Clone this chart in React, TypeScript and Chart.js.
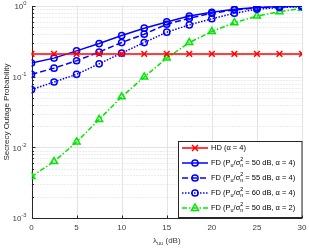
import React, { useEffect, useRef } from "react";
import { Chart, registerables } from "chart.js";
Chart.register(...registerables);

const xValues = [0, 2.5, 5, 7.5, 10, 12.5, 15, 17.5, 20, 22.5, 25, 27.5, 30];
const hdAlpha4 = [0.21, 0.21, 0.21, 0.21, 0.21, 0.21, 0.21, 0.21, 0.21, 0.21, 0.21, 0.21, 0.21];
const fd50Alpha4 = [0.156, 0.183, 0.232, 0.294, 0.382, 0.485, 0.595, 0.72, 0.815, 0.9, 0.955, 0.98, 0.995];
const fd55Alpha4 = [0.108, 0.132, 0.168, 0.223, 0.304, 0.399, 0.552, 0.67, 0.79, 0.88, 0.94, 0.97, 0.99];
const fd60Alpha4 = [0.0656, 0.084, 0.108, 0.152, 0.216, 0.304, 0.426, 0.54, 0.66, 0.79, 0.9, 0.95, 0.98];
const fd50Alpha2 = [0.00386, 0.00628, 0.0119, 0.0248, 0.0518, 0.099, 0.183, 0.304, 0.435, 0.58, 0.72, 0.83, 0.93];
const xTicks = [0, 5, 10, 15, 20, 25, 30];
const yTickExps = [-3, -2, -1, 0];

const FONT = '"Liberation Sans", Arial, sans-serif';
const RED = "#ff0000";
const BLUE = "#0000ff";
const GREEN = "#00e600";

type Seg = { k: "n" | "sub" | "sup" | "supsub"; t: string; b?: string };

function drawRich(ctx: CanvasRenderingContext2D, x: number, y: number, segs: Seg[], size: number) {
  let cx = x;
  ctx.textBaseline = "middle";
  ctx.textAlign = "left";
  const small = size * 0.72;
  for (const s of segs) {
    if (s.k === "n") {
      ctx.font = `${size}px ${FONT}`;
      ctx.fillText(s.t, cx, y);
      cx += ctx.measureText(s.t).width;
    } else if (s.k === "sub") {
      ctx.font = `${small}px ${FONT}`;
      ctx.fillText(s.t, cx, y + size * 0.35);
      cx += ctx.measureText(s.t).width;
    } else if (s.k === "sup") {
      ctx.font = `${small}px ${FONT}`;
      ctx.fillText(s.t, cx, y - size * 0.4);
      cx += ctx.measureText(s.t).width;
    } else {
      ctx.font = `${small}px ${FONT}`;
      ctx.fillText(s.t, cx, y - size * 0.45);
      ctx.fillText(s.b || "", cx, y + size * 0.4);
      cx += Math.max(ctx.measureText(s.t).width, ctx.measureText(s.b || "").width);
    }
  }
  return cx - x;
}

function richWidth(ctx: CanvasRenderingContext2D, segs: Seg[], size: number) {
  let w = 0;
  const small = size * 0.72;
  for (const s of segs) {
    if (s.k === "n") {
      ctx.font = `${size}px ${FONT}`;
      w += ctx.measureText(s.t).width;
    } else if (s.k === "supsub") {
      ctx.font = `${small}px ${FONT}`;
      w += Math.max(ctx.measureText(s.t).width, ctx.measureText(s.b || "").width);
    } else {
      ctx.font = `${small}px ${FONT}`;
      w += ctx.measureText(s.t).width;
    }
  }
  return w;
}

const fdLabel = (p: string, a: string): Seg[] => [
  { k: "n", t: "FD (P" },
  { k: "sub", t: "u" },
  { k: "n", t: "/\u03c3" },
  { k: "supsub", t: "2", b: "n" },
  { k: "n", t: ` = ${p} dB, \u03b1 = ${a})` },
];

const legendItems = [
  { segs: [{ k: "n", t: "HD (\u03b1 = 4)" }] as Seg[], color: RED, dash: [] as number[], marker: "x" },
  { segs: fdLabel("50", "4"), color: BLUE, dash: [] as number[], marker: "o" },
  { segs: fdLabel("55", "4"), color: BLUE, dash: [6, 3], marker: "o" },
  { segs: fdLabel("60", "4"), color: BLUE, dash: [1.5, 1.5], marker: "o" },
  { segs: fdLabel("50", "2"), color: GREEN, dash: [5, 2, 1.5, 2], marker: "^" },
];

function drawMarker(ctx: CanvasRenderingContext2D, type: string, x: number, y: number, color: string) {
  ctx.save();
  ctx.setLineDash([]);
  ctx.strokeStyle = color;
  ctx.lineWidth = 1.5;
  ctx.beginPath();
  if (type === "x") {
    const r = 3;
    ctx.moveTo(x - r, y - r); ctx.lineTo(x + r, y + r);
    ctx.moveTo(x - r, y + r); ctx.lineTo(x + r, y - r);
  } else if (type === "o") {
    ctx.arc(x, y, 3.1, 0, Math.PI * 2);
  } else {
    const r = 4;
    ctx.moveTo(x, y - r);
    ctx.lineTo(x + r * 0.9, y + r * 0.6);
    ctx.lineTo(x - r * 0.9, y + r * 0.6);
    ctx.closePath();
  }
  ctx.stroke();
  ctx.restore();
}

const customPlugin = {
  id: "matlabStyle",
  beforeDatasetsDraw(chart: any) {
    const { ctx, chartArea: a, scales } = chart;
    const xs = scales.x, ys = scales.y;
    ctx.save();
    ctx.strokeStyle = "#d9d9d9";
    ctx.lineWidth = 1;
    ctx.setLineDash([1, 2]);
    for (const e of yTickExps) {
      if (e === 0) continue;
      for (let m = 2; m <= 9; m++) {
        const py = Math.round(ys.getPixelForValue(m * Math.pow(10, e))) + 0.5;
        ctx.beginPath(); ctx.moveTo(a.left, py); ctx.lineTo(a.right, py); ctx.stroke();
      }
    }
    ctx.setLineDash([]);
    ctx.strokeStyle = "#e3e3e3";
    for (const e of yTickExps) {
      const py = Math.round(ys.getPixelForValue(Math.pow(10, e))) + 0.5;
      ctx.beginPath(); ctx.moveTo(a.left, py); ctx.lineTo(a.right, py); ctx.stroke();
    }
    for (const t of xTicks) {
      const px = Math.round(xs.getPixelForValue(t)) + 0.5;
      ctx.beginPath(); ctx.moveTo(px, a.top); ctx.lineTo(px, a.bottom); ctx.stroke();
    }
    ctx.strokeStyle = "#262626";
    const lx = Math.round(a.left) + 0.5, by = Math.round(a.bottom) + 0.5;
    ctx.beginPath(); ctx.moveTo(lx, a.top); ctx.lineTo(lx, by); ctx.lineTo(a.right, by); ctx.stroke();
    for (const e of yTickExps) {
      const py = Math.round(ys.getPixelForValue(Math.pow(10, e))) + 0.5;
      ctx.beginPath(); ctx.moveTo(lx, py); ctx.lineTo(lx + 3, py); ctx.stroke();
      if (e === 0) continue;
      for (let m = 2; m <= 9; m++) {
        const p2 = Math.round(ys.getPixelForValue(m * Math.pow(10, e))) + 0.5;
        ctx.beginPath(); ctx.moveTo(lx, p2); ctx.lineTo(lx + 1.5, p2); ctx.stroke();
      }
    }
    for (const t of xTicks) {
      const px = Math.round(xs.getPixelForValue(t)) + 0.5;
      ctx.beginPath(); ctx.moveTo(px, by); ctx.lineTo(px, by - 3); ctx.stroke();
    }
    ctx.fillStyle = "#404040";
    ctx.font = `8px ${FONT}`;
    ctx.textAlign = "center";
    ctx.textBaseline = "middle";
    for (const t of xTicks) {
      ctx.fillText(String(t), xs.getPixelForValue(t), a.bottom + 10);
    }
    for (const e of yTickExps) {
      const py = ys.getPixelForValue(Math.pow(10, e));
      const segs: Seg[] = [{ k: "n", t: "10" }, { k: "sup", t: String(e) }];
      const w = richWidth(ctx, segs, 8);
      ctx.fillStyle = "#404040";
      drawRich(ctx, a.left - 5 - w, py + 1, segs, 8);
    }
    const xt: Seg[] = [{ k: "n", t: "\u03bb" }, { k: "sub", t: "uu" }, { k: "n", t: " (dB)" }];
    const xw = richWidth(ctx, xt, 8);
    drawRich(ctx, (a.left + a.right) / 2 - xw / 2, a.bottom + 23, xt, 8);
    ctx.save();
    ctx.translate(6.5, (a.top + a.bottom) / 2);
    ctx.rotate(-Math.PI / 2);
    ctx.font = `8px ${FONT}`;
    ctx.textAlign = "center";
    ctx.textBaseline = "middle";
    ctx.fillStyle = "#262626";
    ctx.fillText("Secrecy Outage Probability", 0, 0);
    ctx.restore();
    ctx.restore();
  },
  afterDraw(chart: any) {
    const { ctx, chartArea: a } = chart;
    const bx = 178.5, by = 141.5, bw = a.right - 178.5, bh = 76;
    ctx.save();
    ctx.fillStyle = "#ffffff";
    ctx.fillRect(bx, by, bw, bh);
    ctx.strokeStyle = "#262626";
    ctx.lineWidth = 1;
    ctx.strokeRect(bx, by, bw, bh);
    legendItems.forEach((it, i) => {
      const y = by + 6.5 + i * 15;
      ctx.strokeStyle = it.color;
      ctx.lineWidth = 1.5;
      ctx.setLineDash(it.dash);
      ctx.beginPath(); ctx.moveTo(182, y); ctx.lineTo(208, y); ctx.stroke();
      ctx.setLineDash([]);
      drawMarker(ctx, it.marker, 195, y, it.color);
      ctx.fillStyle = "#000000";
      drawRich(ctx, 211, y, it.segs, 7.5);
    });
    ctx.restore();
  },
};

function mk(label: string, values: number[], color: string, dash: number[], style: string, radius: number) {
  return {
    label,
    data: xValues.map((x, i) => ({ x, y: values[i] })),
    borderColor: color,
    backgroundColor: "rgba(0,0,0,0)",
    borderWidth: 1.5,
    borderDash: dash,
    pointStyle: style,
    pointRadius: radius,
    pointBorderWidth: 1.5,
    pointBorderColor: color,
    pointBackgroundColor: "rgba(0,0,0,0)",
    tension: 0,
    fill: false,
  };
}

export default function App() {
  const ref = useRef<HTMLCanvasElement>(null);
  useEffect(() => {
    if (!ref.current) return;
    const chart = new Chart(ref.current, {
      type: "line",
      data: {
        datasets: [
          mk("HD (\u03b1 = 4)", hdAlpha4, RED, [], "crossRot", 4),
          mk("FD 50 dB, \u03b1 = 4", fd50Alpha4, BLUE, [], "circle", 3.1),
          mk("FD 55 dB, \u03b1 = 4", fd55Alpha4, BLUE, [6, 3], "circle", 3.1),
          mk("FD 60 dB, \u03b1 = 4", fd60Alpha4, BLUE, [1.5, 1.5], "circle", 3.1),
          mk("FD 50 dB, \u03b1 = 2", fd50Alpha2, GREEN, [5, 2, 1.5, 2], "triangle", 4),
        ] as any,
      },
      options: {
        animation: false,
        responsive: true,
        maintainAspectRatio: false,
        layout: { padding: { left: 0, right: 7, top: 6, bottom: 0 } },
        plugins: { legend: { display: false }, tooltip: { enabled: false } },
        scales: {
          x: {
            type: "linear",
            min: 0,
            max: 30,
            grid: { display: false },
            border: { display: false },
            ticks: { display: false },
            afterFit: (s: any) => { s.height = 31; },
          },
          y: {
            type: "logarithmic",
            min: 0.001,
            max: 1,
            grid: { display: false },
            border: { display: false },
            ticks: { display: false },
            afterFit: (s: any) => { s.width = 31.5; },
          },
        },
      } as any,
      plugins: [customPlugin],
    });
    return () => chart.destroy();
  }, []);
  return (
    <div style={{ position: "absolute", left: 0, top: 0, width: 309, height: 249, background: "#fff" }}>
      <canvas ref={ref} />
    </div>
  );
}
